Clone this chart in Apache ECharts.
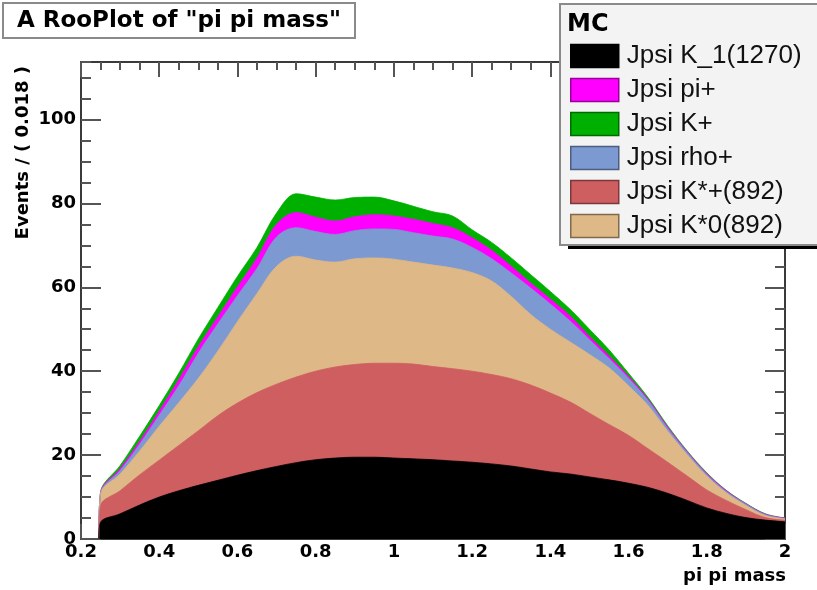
<!DOCTYPE html>
<html><head><meta charset="utf-8">
<script src="https://cdn.jsdelivr.net/npm/echarts@6/dist/echarts.min.js"></script>
<style>html,body{margin:0;padding:0;background:#fff}#c{width:817px;height:590px}</style>
</head><body><div id="c"></div>
<script>
// pi pi mass sample positions
const massBins = [0.245,0.25,0.30,0.35,0.40,0.45,0.50,0.55,0.60,0.65,0.70,0.75,0.80,0.85,0.90,0.95,1.00,1.05,1.10,1.15,1.20,1.25,1.30,1.35,1.40,1.45,1.50,1.55,1.60,1.65,1.70,1.75,1.80,1.85,1.90,1.95,2.00];
// component yields (events per 0.018), listed bottom to top of the stack
const jpsiK1 = [0,4.0,6.0,8.1,10.0,11.5,12.8,14.0,15.2,16.3,17.3,18.2,18.9,19.3,19.5,19.5,19.3,19.1,18.9,18.6,18.3,17.9,17.4,16.7,16.0,15.5,14.8,14.1,13.3,12.3,10.9,9.2,7.4,6.1,5.1,4.5,4.1];
const jpsiKstPlus = [0,4.0,5.5,7.2,8.8,10.8,13.0,15.4,17.2,18.6,19.6,20.4,21.1,21.7,22.1,22.4,22.6,22.6,22.2,22.0,21.7,21.3,20.8,20.0,18.8,17.2,15.2,13.2,11.4,9.2,7.4,5.8,4.3,3.1,1.9,0.6,0.4];
const jpsiKst0 = [0,2.8,4.0,5.7,8.1,10.2,12.5,15.4,19.4,23.6,28.1,28.8,26.5,25.0,25.2,25.1,24.8,24.3,24.2,24.0,23.5,22.3,19.6,16.8,15.2,14.3,14.0,13.5,11.8,10.3,7.4,5.1,3.3,1.8,1.0,0.5,0.3];
const jpsiRho = [0,0.2,0.8,1.6,2.6,4.0,6.0,6.5,6.2,6.0,7.0,6.8,6.8,6.6,6.7,6.9,7.1,7.0,6.9,6.9,6.0,5.3,5.6,6.3,6.0,5.0,3.5,2.2,1.8,1.2,0.7,0.5,0.4,0.3,0.3,0.2,0.1];
const jpsiPi = [0,0.1,0.5,0.7,1.0,1.5,1.6,1.7,2.1,2.5,3.0,3.6,3.4,3.2,3.3,3.4,3.2,3.2,3.0,2.7,2.3,2.0,1.6,1.2,1.2,1.2,0.8,0.7,0.5,0.3,0.3,0.2,0.2,0.2,0.1,0.1,0.1];
const jpsiKPlus = [0,0.1,0.7,1.2,1.3,1.5,1.8,2.2,2.5,2.5,2.7,4.5,4.8,5.0,4.6,4.2,3.6,3.1,2.8,2.8,1.9,1.9,2.0,2.0,1.8,1.6,1.7,1.4,0.7,0.4,0.3,0.2,0.2,0.1,0.1,0.1,0.0];

const stackOrder = [
  {name:'Jpsi K_1(1270)', data:jpsiK1, color:'#000000', border:'#000000'},
  {name:'Jpsi K*+(892)', data:jpsiKstPlus, color:'#cf5e61', border:'#7a3a3a'},
  {name:'Jpsi K*0(892)', data:jpsiKst0, color:'#deb887', border:'#7f6a4c'},
  {name:'Jpsi rho+', data:jpsiRho, color:'#7d99d1', border:'#4c5e80'},
  {name:'Jpsi pi+', data:jpsiPi, color:'#ff00ff', border:'#990099'},
  {name:'Jpsi K+', data:jpsiKPlus, color:'#00b000', border:'#006a00'}
];
const legendOrder = ['Jpsi K_1(1270)','Jpsi pi+','Jpsi K+','Jpsi rho+','Jpsi K*+(892)','Jpsi K*0(892)'];
const yMax = 113.7;

// running sums for the stacked areas (each area filled from 0 up to its cumulative top)
const cumulative = [];
let running = massBins.map(() => 0);
stackOrder.forEach(s => {
  running = running.map((v, i) => v + s.data[i]);
  cumulative.push(running.slice());
});

const chart = echarts.init(document.getElementById('c'), null, {renderer:'canvas'});
const frameColor = '#3a3a3a';
const tickColor = '#555';
const labelFont = {fontFamily:'DejaVu Sans', fontWeight:'bold', fontSize:18, color:'#000'};

function xAx(pos, showLabel){
  return {type:'value', position:pos, min:0.2, max:2.0, interval:0.2,
    axisLine:{show:true, onZero:false, lineStyle:{color:frameColor, width:2}},
    axisTick:{show:true, inside:true, length:15, lineStyle:{color:tickColor, width:2}},
    minorTick:{show:true, splitNumber:4, length:8, lineStyle:{color:tickColor, width:2}},
    splitLine:{show:false}, minorSplitLine:{show:false},
    axisLabel:Object.assign({show:showLabel, margin:4}, labelFont)};
}
function yAx(pos, interval, len, showLabel, showLine){
  return {type:'value', position:pos, min:0, max:yMax, interval:interval,
    axisLine:{show:showLine, onZero:false, lineStyle:{color:frameColor, width:2}},
    axisTick:{show:true, inside:true, length:len, lineStyle:{color:tickColor, width:2}},
    splitLine:{show:false},
    axisLabel:Object.assign({show:showLabel, margin:5, showMaxLabel:false,
      formatter:function(v){return (Math.abs(v % 20) < 1e-6) ? String(v) : '';}}, labelFont)};
}

// draw from the top layer down so lower layers paint over the upper areas
const series = [];
for (let k = stackOrder.length - 1; k >= 0; k--) {
  const s = stackOrder[k];
  series.push({
    name:s.name, type:'line', smooth:0.35, symbol:'none',
    xAxisIndex:0, yAxisIndex:0,
    lineStyle:{width:0.8, color:s.color},
    itemStyle:{color:s.color},
    areaStyle:{color:s.color, opacity:1, origin:'start'},
    emphasis:{disabled:true},
    data: massBins.map((x,i)=>[x, cumulative[k][i]])
  });
}

chart.setOption({
  animation:false,
  backgroundColor:'#ffffff',
  grid:{left:81, top:62, right:32, bottom:51, containLabel:false},
  xAxis:[xAx('bottom', true), xAx('top', false)],
  yAxis:[yAx('left',20,20,true,true), yAx('left',5,10,false,false), yAx('right',20,20,false,true), yAx('right',5,10,false,false)],
  legend:{
    orient:'vertical', left:565, top:38, icon:'rect', itemWidth:48, itemHeight:23, itemGap:8,
    selectedMode:false, z:6,
    textStyle:{fontFamily:'Liberation Sans', fontSize:26, color:'#111', padding:[0,0,0,3]},
    data: legendOrder.map(n => {
      const s = stackOrder.find(o => o.name === n);
      return {name:n, itemStyle:{color:s.color, borderColor:s.border, borderWidth:1.5}};
    })
  },
  graphic:[
    {type:'rect', z:3, shape:{x:3, y:3, width:352, height:35}, style:{fill:'#ffffff', stroke:'#8a8a8a', lineWidth:2}},
    {type:'text', z:5, x:179, y:21, style:{text:'A RooPlot of "pi pi mass"', font:'bold 23px "DejaVu Sans"', fill:'#000', textAlign:'center', textVerticalAlign:'middle'}},
    {type:'rect', z:3, shape:{x:568, y:8, width:260, height:241}, style:{fill:'#000000'}},
    {type:'rect', z:4, shape:{x:560, y:4, width:270, height:241}, style:{fill:'#f3f3f3', stroke:'#8a8a8a', lineWidth:2}},
    {type:'text', z:5, x:567, y:25, style:{text:'MC', font:'bold 24px "DejaVu Sans"', fill:'#000', textAlign:'left', textVerticalAlign:'middle'}},
    {type:'text', z:5, x:23, y:66, rotation:Math.PI/2, style:{text:'Events / ( 0.018 )', font:'bold 18px "DejaVu Sans"', fill:'#000', textAlign:'right', textVerticalAlign:'middle'}},
    {type:'text', z:5, x:786, y:576, style:{text:'pi pi mass', font:'bold 18px "DejaVu Sans"', fill:'#000', textAlign:'right', textVerticalAlign:'middle'}}
  ],
  series: series
});
</script>
</body></html>
